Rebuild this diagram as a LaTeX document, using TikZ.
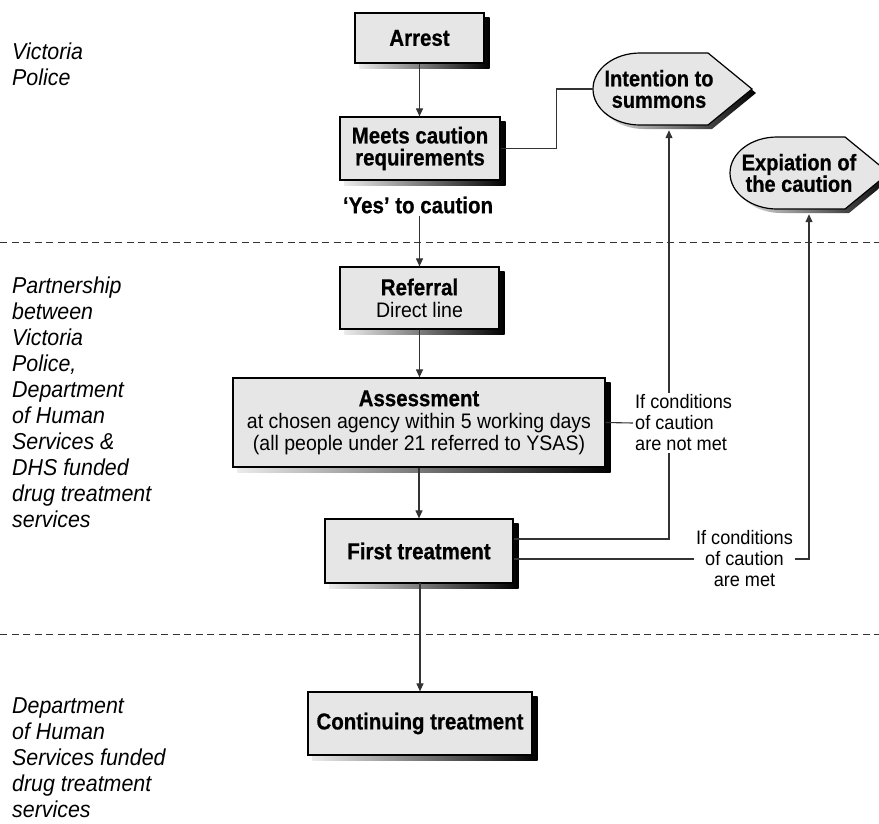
\documentclass[tikz,border=0pt]{standalone}
\usepackage{fontspec}
\setmainfont{Liberation Sans}[FakeStretch=0.93,BoldFeatures={FakeStretch=0.89,FakeBold=0.6}]
\usetikzlibrary{arrows.meta,calc}
\pgfdeclarelayer{bg}
\pgfsetlayers{bg,main}
\definecolor{boxgray}{HTML}{E6E6E6}
\definecolor{linegray}{HTML}{333333}
\newcommand\boxshade[1]{%
  \begin{pgfonlayer}{bg}
    \shade[left color=black!8,right color=black]
      ([shift={(5pt,-5pt)}]#1.south west) rectangle ([shift={(5pt,-5pt)}]#1.north east);
  \end{pgfonlayer}}
\newcommand\tagshape[3]{%
  \path[#3] (#1+115,#2-36) -- (#1+47,#2-36)
    arc[start angle=270,end angle=90,x radius=47,y radius=36]
    -- (#1+115,#2+36) -- (#1+159,#2) -- cycle;}
\tikzset{
  flowbox/.style={draw=black,line width=1.2pt,fill=boxgray,inner sep=0pt,align=center,
    font=\fontsize{23}{22}\selectfont\bfseries},
  tagtext/.style={inner sep=0pt,align=center,font=\fontsize{22.5}{21.5}\selectfont\bfseries},
  conn/.style={draw=linegray,line width=1.1pt},
  arr/.style={conn,-{Triangle[length=8pt,width=7pt]}},
  divider/.style={draw=linegray,line width=1pt,dash pattern=on 7pt off 4.5pt},
  sidelabel/.style={anchor=north west,align=left,inner sep=0pt,
    font=\fontsize{23}{26}\selectfont\itshape},
  note/.style={fill=white,inner sep=2pt,font=\fontsize{19.5}{21}\selectfont}
}
\begin{document}
\begin{tikzpicture}[x=1pt,y=-1pt]
\useasboundingbox (0,0) rectangle (879,823);
\begin{pgfonlayer}{bg}
\fill[white] (0,0) rectangle (879,823);
\end{pgfonlayer}

% dividers
\draw[divider] (0,242) -- (879,242);
\draw[divider] (0,634) -- (879,634);

% side labels
\node[sidelabel] (vp) at (12,43) {Victoria\\Police};
\node[sidelabel] (partner) at (12,277) {Partnership\\between\\Victoria\\Police,\\Department\\of Human\\Services \&\\DHS funded\\drug treatment\\services};
\node[sidelabel] (dhs) at (12,697) {Department\\of Human\\Services funded\\drug treatment\\services};

% boxes
\node[flowbox,minimum width=129pt,minimum height=50pt] (arrest) at (419.5,38) {Arrest};
\node[flowbox,minimum width=160pt,minimum height=63pt] (meets) at (420,148.5) {Meets caution\\requirements};
\node[inner sep=2pt,font=\fontsize{23}{22}\selectfont\bfseries] (yes) at (418,205) {‘Yes’ to caution};
\node[flowbox,minimum width=159pt,minimum height=62pt] (referral) at (419.5,298) {Referral\\{\mdseries\fontsize{21}{22}\selectfont Direct line}};
\node[flowbox,minimum width=372pt,minimum height=89pt] (assess) at (419,422.5) {Assessment\\{\mdseries\fontsize{21}{21.5}\selectfont at chosen agency within 5 working days}\\{\mdseries\fontsize{21}{21.5}\selectfont (all people under 21 referred to YSAS)}};
\node[flowbox,minimum width=188pt,minimum height=64pt] (first) at (419,551) {First treatment};
\node[flowbox,minimum width=224pt,minimum height=63pt] (cont) at (420,723.5) {Continuing treatment};

\boxshade{arrest}
\boxshade{meets}
\boxshade{referral}
\boxshade{assess}
\boxshade{first}
\boxshade{cont}

% tag shapes
\node[minimum width=159pt,minimum height=72pt,inner sep=0pt] (inten) at (672.5,89) {};
\node[minimum width=159pt,minimum height=72pt,inner sep=0pt] (expi) at (809.5,173) {};
\begin{pgfonlayer}{bg}
\tagshape{597}{93}{left color=black!8,right color=black}
\tagshape{734}{177}{left color=black!8,right color=black}
\end{pgfonlayer}
\tagshape{593}{89}{fill=boxgray,draw=black,line width=1.2pt}
\tagshape{730}{173}{fill=boxgray,draw=black,line width=1.2pt}
\node[tagtext] (intentext) at (659,89) {Intention to\\summons};
\node[tagtext] (expitext) at (799,173) {Expiation of\\the caution};

\coordinate (intenbot) at ([shift={(-3.5pt,-5pt)}]inten.south);
\coordinate (expibot) at ([shift={(-0.5pt,-5pt)}]expi.south);

% connectors
\draw[arr] (arrest.south) -- (arrest.south |- meets.north);
\draw[conn] (meets.east) -| ([xshift=-36pt]inten.west) -- (inten.west);
\draw[arr] (referral.north |- yes.south) -- (referral.north);
\draw[arr] (referral.south) -- (referral.south |- assess.north);
\draw[arr] (first.north |- assess.south) -- (first.north);
\draw[arr] (first.south) -- (cont.north |- first.south) -- (cont.north);
\draw[arr] ([yshift=12pt]first.east) -| (intenbot);
\draw[arr] ([yshift=-8pt]first.east) -| (expibot);

% condition labels
\node[note,anchor=west,align=left] (notmet) at (633,423) {If conditions\\of caution\\are not met};
\node[note,align=center] (met) at (744.5,559) {If conditions\\of caution\\are met};
\draw[conn] (assess.east) -- (notmet.west);
\end{tikzpicture}
\end{document}
